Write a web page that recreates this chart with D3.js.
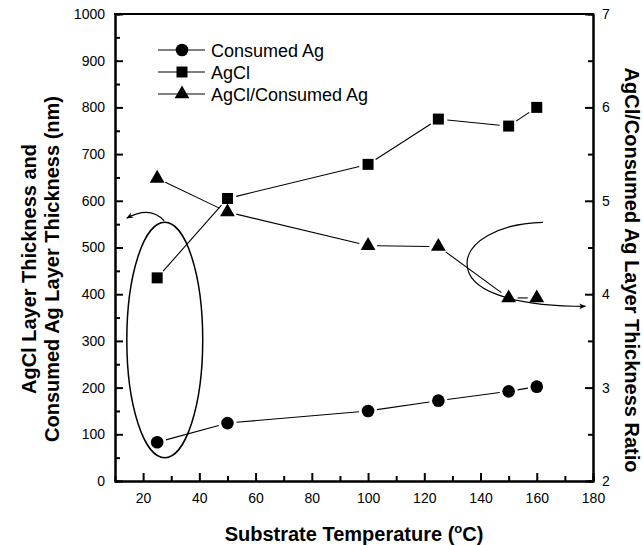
<!DOCTYPE html>
<html><head><meta charset="utf-8">
<script src="https://cdn.jsdelivr.net/npm/d3@7"></script>
<style>body{margin:0;background:#fff}svg{display:block}text{font-family:"Liberation Sans",Arial,sans-serif}</style>
</head><body><svg id="c" width="643" height="545"></svg>
<script>
const temps = [25, 50, 100, 125, 150, 160];
const consumedAg = [83, 124, 150, 172, 192, 202];
const agcl = [435, 605, 678, 775, 760, 800];
const ratio = [5.24, 4.88, 4.52, 4.51, 3.96, 3.96];
const xTicks = [20, 40, 60, 80, 100, 120, 140, 160, 180];
const yLeftTicks = [0, 100, 200, 300, 400, 500, 600, 700, 800, 900, 1000];
const yRightTicks = [2, 3, 4, 5, 6, 7];
const legendNames = ["Consumed Ag", "AgCl", "AgCl/Consumed Ag"];

const svg = d3.select("#c");
const L = 115, R = 593, T = 14, B = 481;
const x = d3.scaleLinear().domain([10, 180]).range([L, R]);
const yL = d3.scaleLinear().domain([0, 1000]).range([B, T]);
const yR = d3.scaleLinear().domain([2, 7]).range([B, T]);
const fmt = d3.format("d");

function styleAxis(g){
  g.select(".domain").attr("stroke","#000").attr("stroke-width",2);
  g.selectAll(".tick line").attr("stroke","#000").attr("stroke-width",2);
  g.selectAll(".tick text").attr("font-size",14).attr("fill","#000").attr("font-family","Liberation Sans, Arial, sans-serif");
}
// minor ticks
const minorX = d3.range(30, 180, 20);
const minorL = d3.range(50, 1000, 100);
const minorR = d3.range(2.5, 7, 1);
svg.append("g").attr("transform",`translate(0,${B})`)
  .call(d3.axisBottom(x).tickValues(minorX).tickSize(-5).tickFormat("")).call(styleAxis);
svg.append("g").attr("transform",`translate(${L},0)`)
  .call(d3.axisLeft(yL).tickValues(minorL).tickSize(-5).tickFormat("")).call(styleAxis);
svg.append("g").attr("transform",`translate(${R},0)`)
  .call(d3.axisRight(yR).tickValues(minorR).tickSize(-5).tickFormat("")).call(styleAxis);
// major
svg.append("g").attr("transform",`translate(0,${B})`)
  .call(d3.axisBottom(x).tickValues(xTicks).tickFormat(fmt).tickSizeInner(-8).tickSizeOuter(0).tickPadding(12)).call(styleAxis);
svg.append("g").attr("transform",`translate(${L},0)`)
  .call(d3.axisLeft(yL).tickValues(yLeftTicks).tickFormat(fmt).tickSizeInner(-8).tickSizeOuter(0).tickPadding(10)).call(styleAxis);
svg.append("g").attr("transform",`translate(${R},0)`)
  .call(d3.axisRight(yR).tickValues(yRightTicks).tickFormat(fmt).tickSizeInner(-8).tickSizeOuter(0).tickPadding(9)).call(styleAxis);
svg.append("line").attr("x1",L-1).attr("x2",R+1).attr("y1",T).attr("y2",T).attr("stroke","#000").attr("stroke-width",2);

// series
const series = [
  {vals: consumedAg, y: yL, sym: d3.symbolCircle, size: 125},
  {vals: agcl, y: yL, sym: d3.symbolSquare, size: 121},
  {vals: ratio, y: yR, sym: d3.symbolTriangle, size: 95}
];
const gap = 9;
series.forEach(s => {
  const pts = temps.map((t,i)=>[x(t), s.y(s.vals[i])]);
  for (let i=0;i<pts.length-1;i++){
    const [x1,y1]=pts[i],[x2,y2]=pts[i+1];
    const d=Math.hypot(x2-x1,y2-y1); const ux=(x2-x1)/d, uy=(y2-y1)/d;
    svg.append("line").attr("x1",x1+ux*gap).attr("y1",y1+uy*gap)
      .attr("x2",x2-ux*gap).attr("y2",y2-uy*gap).attr("stroke","#000").attr("stroke-width",1.1);
  }
  svg.selectAll(null).data(pts).join("path")
    .attr("transform",d=>`translate(${d[0]},${d[1]})`)
    .attr("d", d3.symbol().type(s.sym).size(s.size)).attr("fill","#000");
});

// legend
const legY = [50, 72, 94];
series.forEach((s,i)=>{
  svg.append("line").attr("x1",158).attr("x2",205).attr("y1",legY[i]).attr("y2",legY[i]).attr("stroke","#000").attr("stroke-width",1.1);
  svg.append("path").attr("transform",`translate(182,${legY[i]})`).attr("d",d3.symbol().type(s.sym).size(s.size)).attr("fill","#000");
  svg.append("text").attr("x",211).attr("y",legY[i]+6.5).attr("font-size",18).text(legendNames[i]);
});

// arrow marker
const defs = svg.append("defs");
defs.append("marker").attr("id","ah").attr("viewBox","0 0 10 10").attr("refX",9).attr("refY",5)
  .attr("markerWidth",9).attr("markerHeight",7).attr("markerUnits","userSpaceOnUse").attr("orient","auto")
  .append("path").attr("d","M0,1 L10,5 L0,9 L3,5 Z").attr("fill","#000");

// left ellipse annotation
svg.append("ellipse").attr("cx",x(27.7)).attr("cy",yL(302)).attr("rx",x(27.7+13.5)-x(27.7)).attr("ry",yL(0)-yL(252))
  .attr("fill","none").attr("stroke","#000").attr("stroke-width",1.5);
const p1 = d3.path();
p1.moveTo(x(27.5), yL(557));
p1.quadraticCurveTo(x(22.5), yL(590), x(14.2), yL(563));
svg.append("path").attr("d",p1.toString()).attr("fill","none").attr("stroke","#000").attr("stroke-width",1.2).attr("marker-end","url(#ah)");

// right curved arrow annotation
const p2 = d3.path();
p2.moveTo(x(162.2), yR(4.77));
p2.bezierCurveTo(x(146), yR(4.76), x(135.2), yR(4.55), x(135.2), yR(4.33));
p2.bezierCurveTo(x(135.2), yR(4.05), x(150), yR(3.87), x(177.3), yR(3.87));
svg.append("path").attr("d",p2.toString()).attr("fill","none").attr("stroke","#000").attr("stroke-width",1.2).attr("marker-end","url(#ah)");

// axis titles
svg.append("text").attr("transform",`translate(29,269) rotate(-90)`).attr("text-anchor","middle")
  .attr("dominant-baseline","central").attr("font-size",20).attr("font-weight","bold").text("AgCl Layer Thickness and");
svg.append("text").attr("transform",`translate(52,269) rotate(-90)`).attr("text-anchor","middle")
  .attr("dominant-baseline","central").attr("font-size",20).attr("font-weight","bold").text("Consumed Ag Layer Thickness (nm)");
svg.append("text").attr("transform",`translate(632,270) rotate(90)`).attr("text-anchor","middle")
  .attr("dominant-baseline","central").attr("font-size",20).attr("font-weight","bold").text("AgCl/Consumed Ag Layer Thickness Ratio");
const xt = svg.append("text").attr("x",(L+R)/2).attr("y",541).attr("text-anchor","middle").attr("font-size",20).attr("font-weight","bold");
xt.append("tspan").text("Substrate Temperature (");
xt.append("tspan").attr("font-size",13).attr("dy",-8).text("o");
xt.append("tspan").attr("dy",8).text("C)");
</script></body></html>
